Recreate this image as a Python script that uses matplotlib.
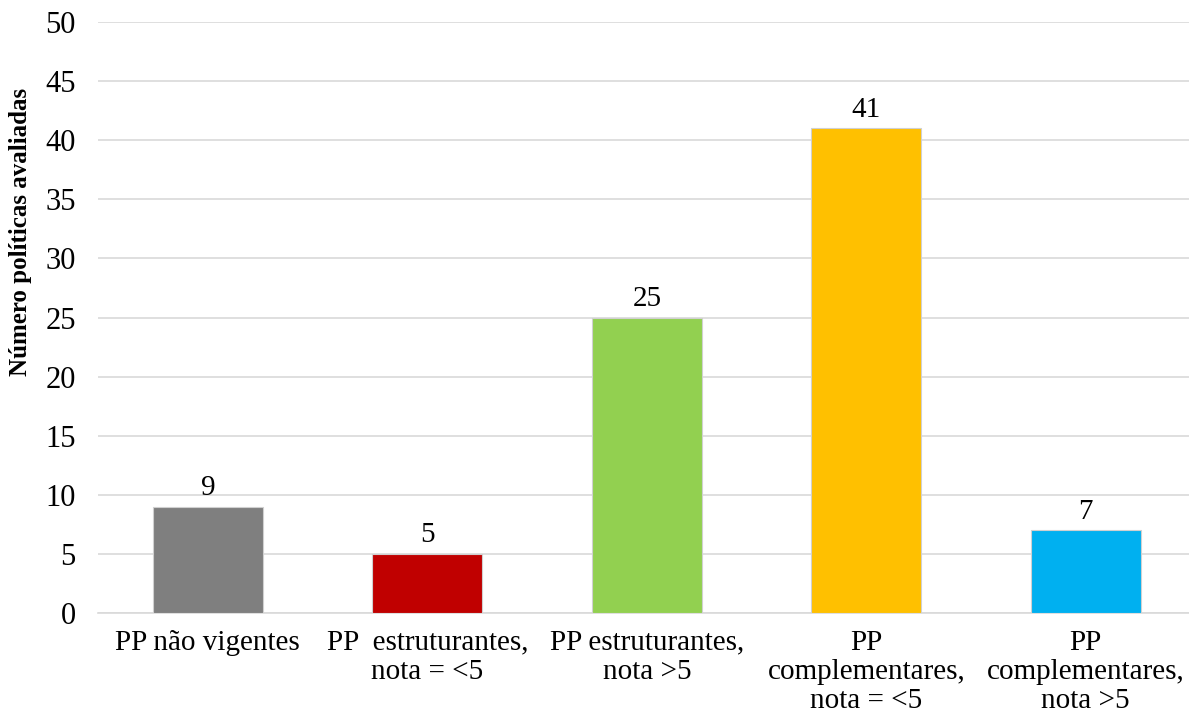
import matplotlib
matplotlib.use("Agg")
import matplotlib.pyplot as plt

categories = ["PP não vigentes", "PP  estruturantes,\nnota = <5", "PP estruturantes,\nnota >5",
              "PP\ncomplementares,\nnota = <5", "PP\ncomplementares,\nnota >5"]
values = [9, 5, 25, 41, 7]
colors = ["#7f7f7f", "#c00000", "#92d050", "#ffc000", "#00b0f0"]
yticks = [0, 5, 10, 15, 20, 25, 30, 35, 40, 45, 50]
ylabel = "Número políticas avaliadas"

plt.rcParams['font.family'] = ['Liberation Serif', 'DejaVu Serif']

fig = plt.figure(figsize=(11.89, 7.12), dpi=100)
ax = fig.add_axes([0.0825, 0.139, 0.923, 0.830])
x = range(len(values))
bars = ax.bar(x, values, width=0.5, color=colors, edgecolor="#d0d0d0", linewidth=0.8, zorder=3)
for xi, v in zip(x, values):
    ax.annotate(str(v), (xi, v), xytext=(0, 4), textcoords="offset points",
                ha="center", va="bottom", fontsize=21)
ax.set_xlim(-0.5, len(values) - 0.5)
ax.set_ylim(0, 50)
ax.set_yticks(yticks)
ax.set_yticklabels([str(t) for t in yticks], fontsize=22)
ax.set_xticks(list(x))
ax.set_xticklabels(categories, fontsize=21, linespacing=1.15)
ax.tick_params(axis="both", length=0)
ax.tick_params(axis="y", pad=16)
ax.tick_params(axis="x", pad=12)
ax.grid(axis="y", color="#d9d9d9", linewidth=1.2, zorder=0)
for s in ["top", "right", "left"]:
    ax.spines[s].set_visible(False)
ax.spines["bottom"].set_color("#d9d9d9")
ax.spines["bottom"].set_linewidth(1.2)
ax.set_ylabel(ylabel, fontsize=18, fontweight="bold")
ax.yaxis.set_label_coords(-0.060, 0.645)
fig.savefig("out.png", dpi=100)
